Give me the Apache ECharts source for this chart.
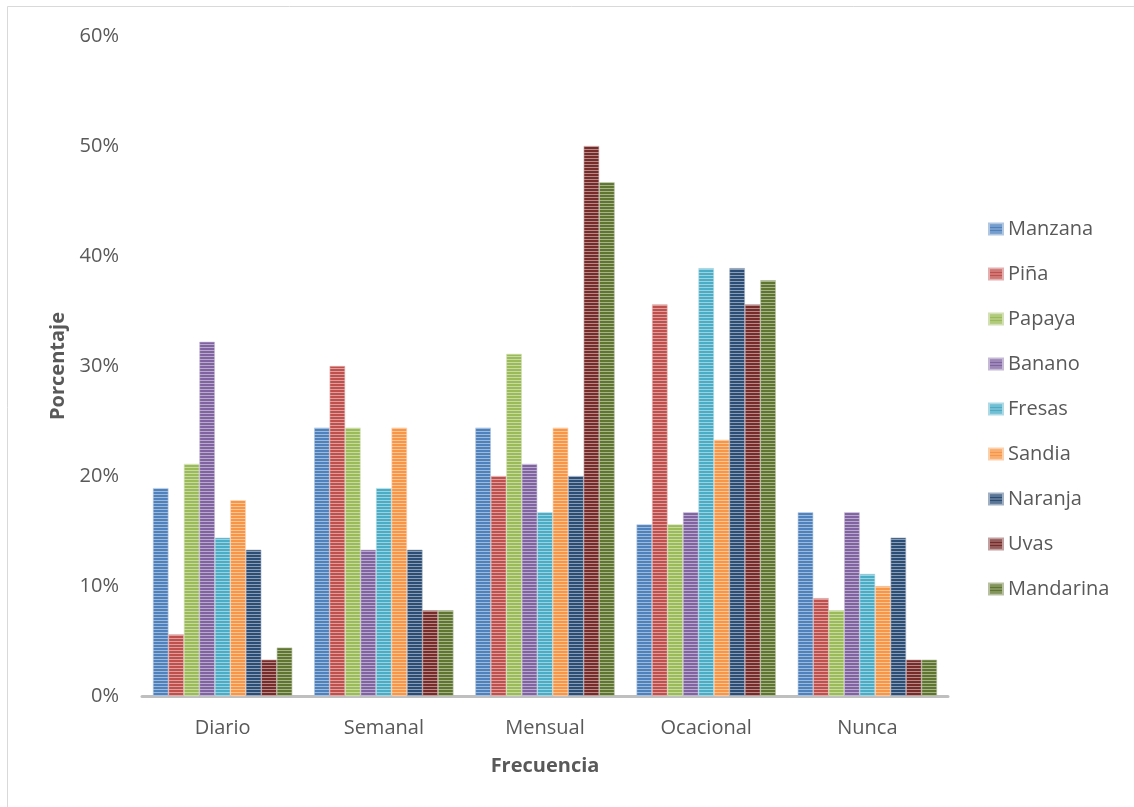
<!DOCTYPE html>
<html>
<head>
<meta charset="utf-8">
<script src="https://cdn.jsdelivr.net/npm/echarts@6/dist/echarts.min.js"></script>
<style>
  html, body { margin: 0; padding: 0; background: #fff; }
  #chart { width: 1134px; height: 807px; }
</style>
</head>
<body>
<div id="chart"></div>
<script>
// Frequency of consumption per fruit (percent of respondents)
const categories = ['Diario', 'Semanal', 'Mensual', 'Ocacional', 'Nunca'];
const seriesNames = ['Manzana', 'Piña', 'Papaya', 'Banano', 'Fresas', 'Sandia', 'Naranja', 'Uvas', 'Mandarina'];

const manzana   = [18.9, 24.4, 24.4, 15.6, 16.7];
const pina      = [5.6, 30.0, 20.0, 35.6, 8.9];
const papaya    = [21.1, 24.4, 31.1, 15.6, 7.8];
const banano    = [32.2, 13.3, 21.1, 16.7, 16.7];
const fresas    = [14.4, 18.9, 16.7, 38.9, 11.1];
const sandia    = [17.8, 24.4, 24.4, 23.3, 10.0];
const naranja   = [13.3, 13.3, 20.0, 38.9, 14.4];
const uvas      = [3.3, 7.8, 50.0, 35.6, 3.3];
const mandarina = [4.4, 7.8, 46.7, 37.8, 3.3];

const seriesValues = [manzana, pina, papaya, banano, fresas, sandia, naranja, uvas, mandarina];
const yTicks = [0, 10, 20, 30, 40, 50, 60];

const palette = ['#4F81BD', '#C0504D', '#9BBB59', '#8064A2', '#4BACC6', '#F79646', '#2C4D75', '#772C2A', '#5F7530'];

function lighten(hex, t) {
  const n = parseInt(hex.slice(1), 16);
  const r = (n >> 16) & 255, g = (n >> 8) & 255, b = n & 255;
  const m = c => Math.round(c + (255 - c) * t);
  return 'rgb(' + m(r) + ',' + m(g) + ',' + m(b) + ')';
}

// Horizontal stripe fill: two rows of the base colour, one paler row
function stripes(hex) {
  const c = document.createElement('canvas');
  c.width = 4; c.height = 3;
  const ctx = c.getContext('2d');
  ctx.fillStyle = hex;
  ctx.fillRect(0, 0, 4, 3);
  ctx.fillStyle = lighten(hex, 0.45);
  ctx.fillRect(0, 2, 4, 1);
  return { image: c, repeat: 'repeat' };
}

const FONT = '"Open Sans", "DejaVu Sans", sans-serif';
const TEXT = '#595959';

const chart = echarts.init(document.getElementById('chart'));

chart.setOption({
  backgroundColor: '#ffffff',
  animation: false,
  graphic: [{
    type: 'rect',
    shape: { x: 7.5, y: 6.5, width: 1200, height: 900 },
    style: { fill: 'none', stroke: '#d9d9d9', lineWidth: 1 },
    silent: true,
    z: -1
  }],
  grid: { left: 142, right: 186, top: 36, bottom: 111 },
  legend: {
    orient: 'vertical',
    left: 988,
    top: 217,
    padding: 0,
    icon: 'rect',
    itemWidth: 14,
    itemHeight: 11,
    itemGap: 21,
    data: seriesNames,
    textStyle: { fontFamily: FONT, fontSize: 20, color: TEXT, lineHeight: 24 }
  },
  xAxis: {
    type: 'category',
    data: categories,
    name: 'Frecuencia',
    nameLocation: 'middle',
    nameGap: 60,
    nameTextStyle: { fontFamily: FONT, fontSize: 20, fontWeight: 'bold', color: TEXT },
    axisLine: { show: true, lineStyle: { color: '#bfbfbf', width: 3 } },
    axisTick: { show: false },
    axisLabel: { fontFamily: FONT, fontSize: 20, color: TEXT, margin: 22 }
  },
  yAxis: {
    type: 'value',
    min: yTicks[0],
    max: yTicks[yTicks.length - 1],
    interval: 10,
    name: 'Porcentaje',
    nameLocation: 'middle',
    nameGap: 74,
    nameTextStyle: { fontFamily: FONT, fontSize: 20, fontWeight: 'bold', color: TEXT },
    axisLine: { show: false },
    axisTick: { show: false },
    splitLine: { show: false },
    axisLabel: { fontFamily: FONT, fontSize: 20, color: TEXT, margin: 23, formatter: '{value}%' }
  },
  series: seriesNames.map((name, i) => ({
    name: name,
    type: 'bar',
    data: seriesValues[i],
    barGap: '0%',
    barCategoryGap: '13.6%',
    itemStyle: {
      color: stripes(palette[i]),
      borderColor: lighten(palette[i], 0.55),
      borderWidth: 0.6
    }
  }))
});
</script>
</body>
</html>
